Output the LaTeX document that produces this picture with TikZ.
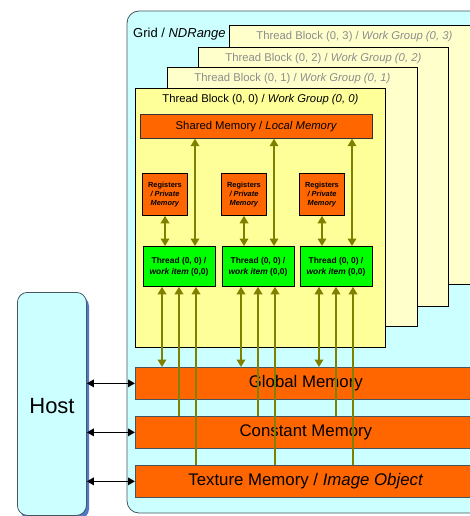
\documentclass[tikz,border=0pt]{standalone}
\usepackage{fontspec}
\setmainfont{Liberation Sans}
\usetikzlibrary{arrows.meta,calc}

\definecolor{gridfill}{RGB}{204,255,255}
\definecolor{gridline}{RGB}{70,85,95}
\definecolor{blockfill}{RGB}{255,255,204}
\definecolor{blockfront}{RGB}{255,255,153}
\definecolor{titlegray}{RGB}{140,140,140}
\definecolor{memorange}{RGB}{255,102,0}
\definecolor{thrgreen}{RGB}{0,255,0}
\definecolor{olivec}{RGB}{128,128,0}
\definecolor{hostshadow}{RGB}{80,120,200}

\tikzset{
  blockbox/.style={draw=black, line width=0.8pt, fill=blockfill, anchor=north west,
    minimum width=250pt, minimum height=259pt, inner sep=0pt},
  blocktitle/.style={font=\fontsize{11.3}{13}\selectfont, text=titlegray, inner sep=0pt},
  membox/.style={draw=gridline, line width=0.7pt, fill=memorange, anchor=north west,
    minimum width=341pt, minimum height=32pt, inner sep=0pt,
    font=\fontsize{16.8}{19}\selectfont},
  regbox/.style={draw=black, line width=0.8pt, fill=memorange, anchor=north,
    minimum width=45pt, minimum height=42pt, inner sep=0pt, align=center,
    font=\fontsize{7.4}{9.3}\selectfont\bfseries},
  thrbox/.style={draw=black, line width=0.8pt, fill=thrgreen, anchor=north,
    minimum width=72pt, minimum height=40pt, inner sep=0pt, align=center,
    font=\fontsize{8.4}{11}\selectfont\bfseries},
  olink/.style={draw=olivec, line width=2.2pt},
  otip/.tip={Triangle[width=8.5pt,length=7.5pt]},
  hostlink/.style={draw=black, line width=1.5pt, {Triangle[width=7.5pt,length=7pt]}-{Triangle[width=7.5pt,length=7pt]}},
}

\begin{document}
\begin{tikzpicture}[x=1pt,y=-1pt]
  \useasboundingbox (0,0) rectangle (470,516);
  \clip (0,0) rectangle (470,516);

  % grid / NDRange container
  \draw[draw=gridline, line width=0.8pt, fill=gridfill, rounded corners=12pt]
    (127,11) rectangle (500,513);
  \node[anchor=west, inner sep=0pt, font=\fontsize{13}{15}\selectfont] (gridlbl) at (133,34) {Grid / \textit{NDRange}};

  % thread blocks, back to front
  \node[blockbox] (b3) at (229,25) {};
  \node[blocktitle] (t3) at ($(b3.north)+(0,12)$) {Thread Block (0, 3) / \textit{Work Group (0, 3)}};
  \node[blockbox] (b2) at (198,47) {};
  \node[blocktitle] (t2) at ($(b2.north)+(0,12)$) {Thread Block (0, 2) / \textit{Work Group (0, 2)}};
  \node[blockbox] (b1) at (167,67) {};
  \node[blocktitle] (t1) at ($(b1.north)+(0,12)$) {Thread Block (0, 1) / \textit{Work Group (0, 1)}};
  \node[blockbox, fill=blockfront] (b0) at (135,88) {};
  \node[blocktitle, text=black] (t0) at ($(b0.north)+(0,12)$) {Thread Block (0, 0) / \textit{Work Group (0, 0)}};

  % shared memory
  \node[draw=black!80, line width=0.7pt, fill=memorange, anchor=north west,
    minimum width=232pt, minimum height=24pt, inner sep=0pt,
    font=\fontsize{11.3}{13}\selectfont] (sm) at (140,114) {Shared Memory / \textit{Local Memory}};

  % registers and threads
  \foreach \i/\rx/\tx in {1/165/179, 2/244/258, 3/322/336} {
    \node[regbox] (reg\i) at (\rx,173) {Registers\\\textit{/ Private}\\\textit{Memory}};
    \node[thrbox] (th\i) at (\tx,246) {Thread (0, 0) /\\\textit{work item} (0,0)};
  }

  % global, constant and texture memory
  \node[membox] (gm) at (135,367) {Global Memory};
  \node[membox] (cm) at (135,416) {Constant Memory};
  \node[membox] (tm) at (135,465) {Texture Memory / \textit{Image Object}};

  % links inside each block column
  \foreach \i in {1,2,3} {
    \coordinate (up\i) at ($(th\i.north)+(16,0)$);
    \coordinate (ga\i) at ($(th\i.south)+(-17,0)$);
    \coordinate (ca\i) at (th\i.south);
    \coordinate (ta\i) at ($(th\i.south)+(17,0)$);
    \draw[olink, otip-otip] (reg\i.south) -- (reg\i.south |- th\i.north);
    \draw[olink, otip-otip] (up\i) -- (up\i |- sm.south);
    \draw[olink, otip-otip] (ga\i) -- (ga\i |- gm.north);
    \draw[olink, -otip] (ca\i |- cm.north) -- (ca\i);
    \draw[olink, -otip] (ta\i |- tm.north) -- (ta\i);
  }

  % host
  \fill[hostshadow, rounded corners=10pt] (20,296) rectangle (89,519);
  \node[draw=gridline, line width=0.8pt, fill=gridfill, rounded corners=10pt,
    anchor=north west, minimum width=69pt, minimum height=223pt, inner sep=0pt] (host) at (17,292) {};
  \node[font=\fontsize{22}{26}\selectfont, inner sep=0pt] (hostlbl) at (52,406) {Host};

  % host to device memory
  \draw[hostlink] (host.east |- gm.west) -- (gm.west);
  \draw[hostlink] (host.east |- cm.west) -- (cm.west);
  \draw[hostlink] (host.east |- tm.west) -- (tm.west);
\end{tikzpicture}
\end{document}
